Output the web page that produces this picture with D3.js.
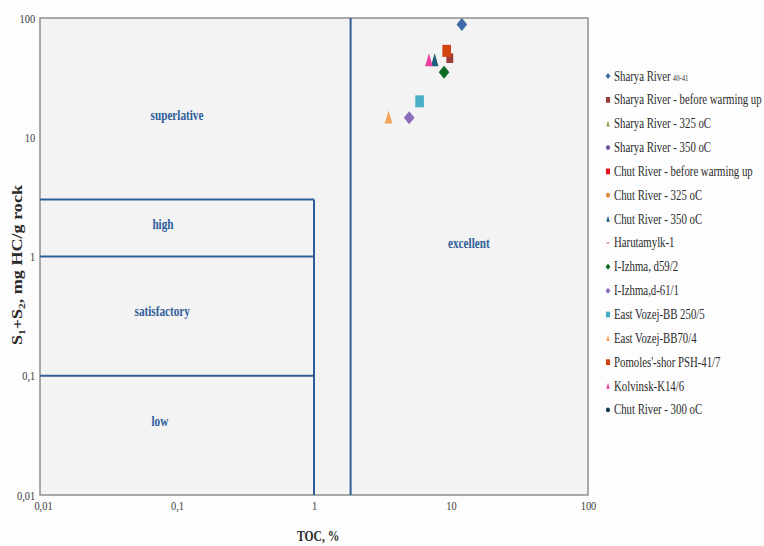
<!DOCTYPE html>
<html><head><meta charset="utf-8">
<script src="https://cdn.jsdelivr.net/npm/d3@7/dist/d3.min.js"></script>
<style>body{margin:0;background:#fff}svg{display:block}</style>
</head><body>
<svg id="c" width="764" height="546"></svg>
<script>
// ---- data ----
const seriesNames = [
  "Sharya River", "Sharya River - before warming up", "Sharya River - 325 oC", "Sharya River - 350 oC",
  "Chut River - before warming up", "Chut River - 325 oC", "Chut River - 350 oC", "Harutamylk-1",
  "I-Izhma, d59/2", "I-Izhma,d-61/1", "East Vozej-BB 250/5", "East Vozej-BB70/4",
  "Pomoles'-shor PSH-41/7", "Kolvinsk-K14/6", "Chut River - 300 oC"
];
const seriesSuffix = ["40-41","","","","","","","","","","","","","",""];
const seriesColors = ["#3e6aa8","#9b3b3a","#8aa84a","#6a4f98","#e8121c","#e08a3c","#1d5d78","#e0708e",
  "#0b6b22","#8a6cb8","#4aaec8","#f4a45a","#d2440e","#e8409c","#173846"];
const seriesShapes = ["diamond","square","triangle","circle","square","circle","triangle","dash",
  "diamond","diamond","square","triangle","square","triangle","circle"];
const seriesTOC   = [[12.0],[9.8],[],[],[],[],[7.6],[],[8.9],[4.95],[5.9],[3.5],[9.3],[6.9],[]];
const seriesS1S2  = [[88],[46],[],[],[],[],[44],[],[35],[14.6],[20],[14.6],[53],[44],[]];
const xTicks = [0.01, 0.1, 1, 10, 100];
const yTicks = [0.01, 0.1, 1, 10, 100];
const tickLabels = ["0,01", "0,1", "1", "10", "100"];
const boundaryTOC = [1, 1.85];        // vertical class boundaries
const boundaryS1S2 = [0.1, 1, 3];     // horizontal class boundaries
const regionNames = ["superlative", "high", "satisfactory", "low", "excellent"];
const regionTOC  = [0.1, 0.079, 0.078, 0.075, 13.5];
const regionS1S2 = [13.9, 1.7, 0.32, 0.0376, 1.18];

// ---- layout ----
const svg = d3.select("#c");
const L = 40, R = 588, T = 18, B = 495;
const x = d3.scaleLog().domain([0.01, 100]).range([L, R]);
const y = d3.scaleLog().domain([0.01, 100]).range([B, T]);
const SX = 0.8;   // horizontal text compression
const SXL = 0.745; // legend compression
const serif = "'Liberation Serif', 'DejaVu Serif', serif";

svg.append("rect").attr("width",764).attr("height",546).attr("fill","#fdfdfd");
svg.append("rect").attr("x",L).attr("y",T).attr("width",R-L).attr("height",B-T)
  .attr("fill","#f3f3f3").attr("stroke","#8f8f8f").attr("stroke-width",1.5);

function ctext(g, px, py, str, size, anchor, opts={}) {
  const t = g.append("text")
    .attr("transform", `translate(${px},${py}) scale(${opts.sx || SX},1)`)
    .attr("text-anchor", anchor).attr("font-family", serif)
    .attr("font-size", size).attr("fill", opts.fill || "#3a3a3a")
    .attr("font-weight", opts.bold ? "bold" : "normal");
  t.text(str);
  return t;
}

// axes (labels only)
const gx = svg.append("g").attr("transform",`translate(0,${B})`);
gx.call(d3.axisBottom(x).tickValues(xTicks).tickSize(0).tickFormat((d,i)=>tickLabels[i]));
gx.select(".domain").remove();
gx.selectAll(".tick text").attr("font-family",serif).attr("font-size",13).attr("fill","#3a3a3a")
  .attr("dy","0.6em").attr("y",7)
  .attr("transform", d => `translate(${d===0.01?3:0},0) scale(${SX},1)`);

const gy = svg.append("g").attr("transform",`translate(${L},0)`);
gy.call(d3.axisLeft(y).tickValues(yTicks).tickSize(0).tickFormat((d,i)=>tickLabels[i]));
gy.select(".domain").remove();
gy.selectAll(".tick text").attr("font-family",serif).attr("font-size",13).attr("fill","#3a3a3a")
  .attr("x",-6).attr("dy","0.32em")
  .attr("transform", `scale(${SX},1)`);

// class boundary lines
const lineColor = "#2f5e96";
const lg = svg.append("g").attr("stroke", lineColor).attr("stroke-width", 2);
lg.append("line").attr("x1",x(boundaryTOC[0])).attr("x2",x(boundaryTOC[0]))
  .attr("y1",y(boundaryS1S2[2])).attr("y2",B);
lg.append("line").attr("x1",x(boundaryTOC[1])).attr("x2",x(boundaryTOC[1]))
  .attr("y1",T).attr("y2",B);
boundaryS1S2.forEach(v=>{
  lg.append("line").attr("x1",L).attr("x2",x(boundaryTOC[0])).attr("y1",y(v)).attr("y2",y(v));
});

// region labels
const rg = svg.append("g");
regionNames.forEach((n,i)=>{
  ctext(rg, x(regionTOC[i]), y(regionS1S2[i]), n, 14, "middle", {bold:true, fill:"#2f5e9a"});
});

// markers
function shapePath(shape, s) {
  const w = s*0.82, h = s;
  switch(shape){
    case "diamond": return `M0,${-h/2}L${w/2},0L0,${h/2}L${-w/2},0Z`;
    case "square": return `M${-w*0.42},${-h*0.48}h${w*0.84}v${h*0.96}h${-w*0.84}Z`;
    case "triangle": return `M0,${-h*0.55}L${w*0.36},${h*0.45}L${-w*0.36},${h*0.45}Z`;
    case "circle": { const r=h*0.4; return `M${-r*0.85},0a${r*0.85},${r} 0 1,0 ${r*1.7},0a${r*0.85},${r} 0 1,0 ${-r*1.7},0Z`; }
    case "dash": return `M${-w*0.3},${-h*0.1}h${w*0.6}v${h*0.2}h${-w*0.6}Z`;
  }
}
const mg = svg.append("g");
seriesNames.forEach((n,i)=>{
  const pts = seriesTOC[i].map((v,j)=>[v, seriesS1S2[i][j]]);
  const big = seriesShapes[i]==="square" ? 12.5 : 13;
  mg.selectAll(null).data(pts).enter().append("path")
    .attr("transform", d=>`translate(${x(d[0])},${y(d[1])})`)
    .attr("d", shapePath(seriesShapes[i], i===1 ? 10 : big))
    .attr("fill", seriesColors[i]);
});

// legend
const leg = svg.append("g");
const ly0 = 76, ldy = 23.85;
seriesNames.forEach((n,i)=>{
  const yy = ly0 + i*ldy;
  leg.append("path").attr("transform",`translate(608,${yy})`)
    .attr("d", shapePath(seriesShapes[i], 6)).attr("fill", seriesColors[i]);
  const t = ctext(leg, 614, yy+4.5, n, 14.5, "start", {fill:"#2a2a2a", sx:SXL});
  if (seriesSuffix[i]) {
    t.append("tspan").attr("font-size", 9).attr("dx", 3).text(seriesSuffix[i]);
  }
});

// axis titles
const yt = svg.append("text").attr("transform",`translate(22,265) rotate(-90)`)
  .attr("text-anchor","middle").attr("font-family",serif).attr("font-weight","bold")
  .attr("font-size",14.5).attr("fill","#2a2a2a")
  .attr("textLength",160).attr("lengthAdjust","spacingAndGlyphs");
yt.append("tspan").text("S");
yt.append("tspan").attr("font-size",9).attr("dy",3).text("1");
yt.append("tspan").attr("dy",-3).text("+S");
yt.append("tspan").attr("font-size",9).attr("dy",3).text("2");
yt.append("tspan").attr("dy",-3).text(", mg HC/g rock");

ctext(svg, 297, 541, "TOC, %", 14.5, "start", {bold:true, fill:"#2a2a2a"});
</script>
</body></html>
